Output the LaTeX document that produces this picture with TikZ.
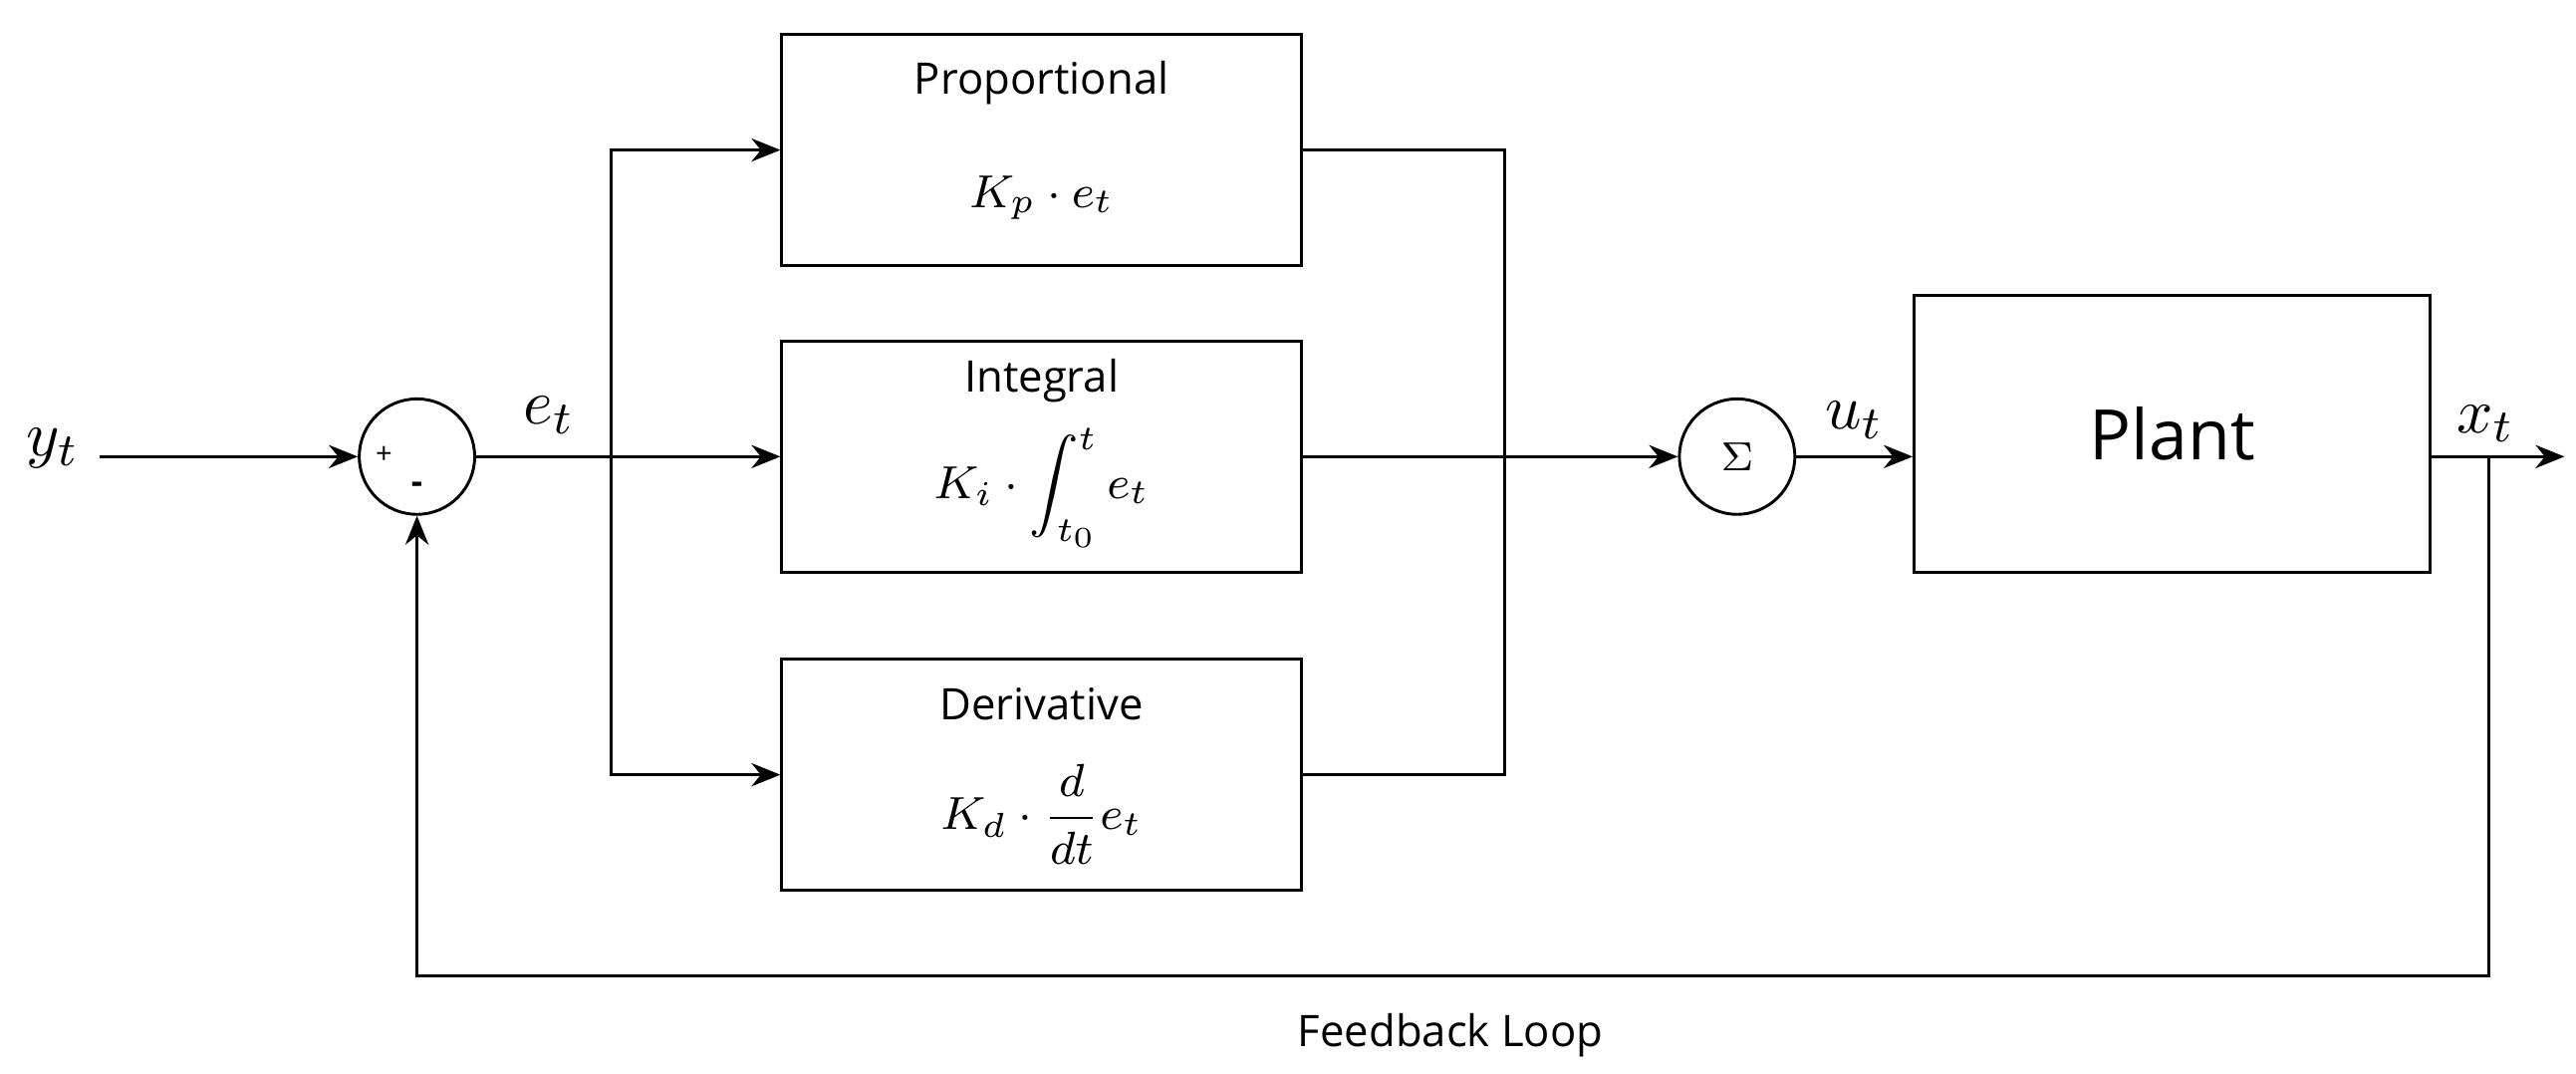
\documentclass[tikz,border=0pt]{standalone}
\usepackage{fontspec}
\setmainfont{Open Sans}
\usepackage{amsmath}
\usetikzlibrary{arrows.meta}
\begin{document}
\begin{tikzpicture}[x=0.01cm,y=-0.01cm,
  blk/.style={draw,line width=0.5pt,minimum width=3.15cm,minimum height=1.4cm,inner sep=0pt},
  sumc/.style={draw,circle,minimum size=0.7cm,inner sep=0pt,line width=0.5pt},
  ln/.style={line width=0.5pt},
  arr/.style={ln,-{Stealth[length=5pt,width=4pt]}},
  lab/.style={font=\fontsize{7.5}{9}\selectfont},
  mth/.style={font=\fontsize{8.5}{10}\selectfont}]
\useasboundingbox (0,0) rectangle (1563,651);
\node[sumc] (s1) at (253,277) {};
\node[font=\fontsize{5}{6}\selectfont] at (233,276) {+};
\node[font=\fontsize{6}{6}\selectfont\bfseries] at (253,296) {-};
\node[sumc] (s2) at (1054,277) {\fontsize{7}{8}\selectfont$\Sigma$};
\node[blk] (P) at (632,91) {};
\node[lab] at (632,50) {Proportional};
\node[mth] at (632,120) {$K_p\cdot e_t$};
\node[blk] (I) at (632,277) {};
\node[lab] at (632,231) {Integral};
\node[mth] at (632,296) {$K_i\cdot\displaystyle\int_{t_0}^{t}e_t$};
\node[blk] (D) at (632,470) {};
\node[lab] at (632,427) {Derivative};
\node[mth] at (632,494) {$K_d\cdot\dfrac{d}{dt}e_t$};
\node[draw,line width=0.5pt,minimum width=3.13cm,minimum height=1.68cm] (Pl) at (1318,263) {\fontsize{12}{14}\selectfont Plant};
\node[font=\fontsize{11}{13}\selectfont] (y) at (32,272) {$y_t$};
\node[font=\fontsize{11}{13}\selectfont] at (333,252) {$e_t$};
\node[font=\fontsize{11}{13}\selectfont] at (1125,255) {$u_t$};
\node[font=\fontsize{11}{13}\selectfont] at (1508,257) {$x_t$};
\node[lab] at (880,628) {Feedback Loop};
\coordinate (j) at (371,277);
\coordinate (r) at (913,277);
\coordinate (o) at (1556,277);
\coordinate (fb) at (1510,277);
\draw[arr] (y.east|-s1) -- (s1.west);
\draw[ln] (s1.east) -- (j);
\draw[arr] (j) -- (I.west);
\draw[arr] (j) |- (P.west);
\draw[arr] (j) |- (D.west);
\draw[ln] (P.east) -| (r);
\draw[ln] (D.east) -| (r);
\draw[arr] (I.east) -- (s2.west);
\draw[arr] (s2.east) -- (s2.east-|Pl.west);
\draw[arr] (Pl.east|-o) -- (o);
\draw[arr] (fb) -- (1510,592) -| (s1.south);
\end{tikzpicture}
\end{document}
